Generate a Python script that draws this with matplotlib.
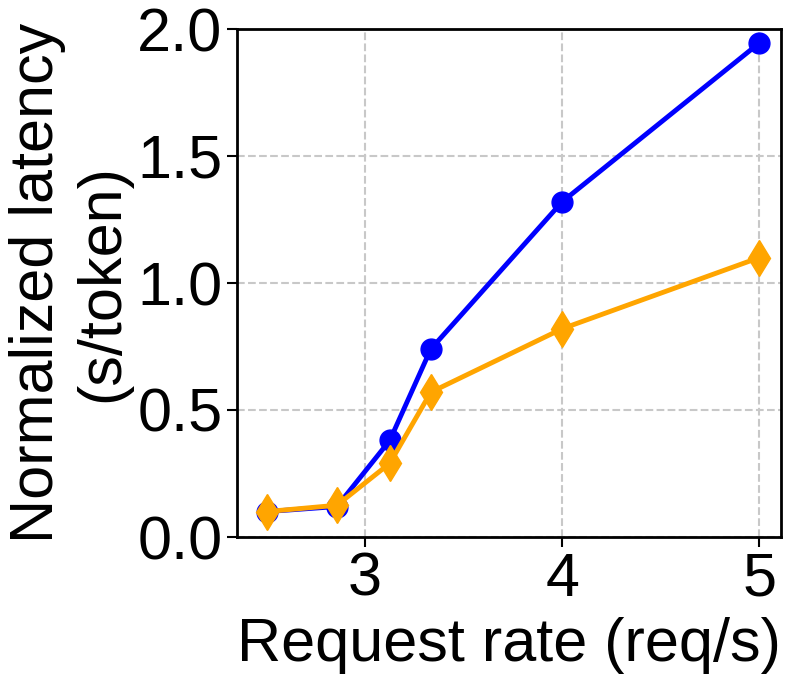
import matplotlib.pyplot as plt

plt.rcParams['font.family'] = ['Liberation Sans', 'DejaVu Sans']

rate = [2.5, 20 / 7, 3.125, 10 / 3, 4, 5]
lat_blue = [0.10, 0.12, 0.38, 0.74, 1.32, 1.945]
lat_orange = [0.10, 0.125, 0.29, 0.57, 0.82, 1.10]
yticks = [0.0, 0.5, 1.0, 1.5, 2.0]
xticks = [3, 4, 5]

fig = plt.figure(figsize=(7.89, 6.86), dpi=100)
ax = fig.add_axes([237 / 789, 1 - 537 / 686, (781 - 237) / 789, (537 - 29) / 686])

ax.plot(rate, lat_blue, color='blue', marker='o', markersize=15, linewidth=3.5)
ax.plot(rate, lat_orange, color='orange', marker='d', markersize=18, linewidth=3.5)

ax.set_xlim(2.35, 5.11)
ax.set_ylim(0, 2.0)
ax.set_xticks(xticks)
ax.set_yticks(yticks)
ax.set_yticklabels([f"{v:.1f}" for v in yticks])
ax.tick_params(labelsize=44, width=1.5, length=7)
ax.grid(True, linestyle='--', color='#c8c8c8', linewidth=1.5)
ax.set_axisbelow(True)
for s in ax.spines.values():
    s.set_linewidth(2)

ax.set_xlabel("Request rate (req/s)", fontsize=44, labelpad=6)
ax.set_ylabel("Normalized latency\n(s/token)", fontsize=44, labelpad=4)

fig.savefig("out.png", dpi=100)
